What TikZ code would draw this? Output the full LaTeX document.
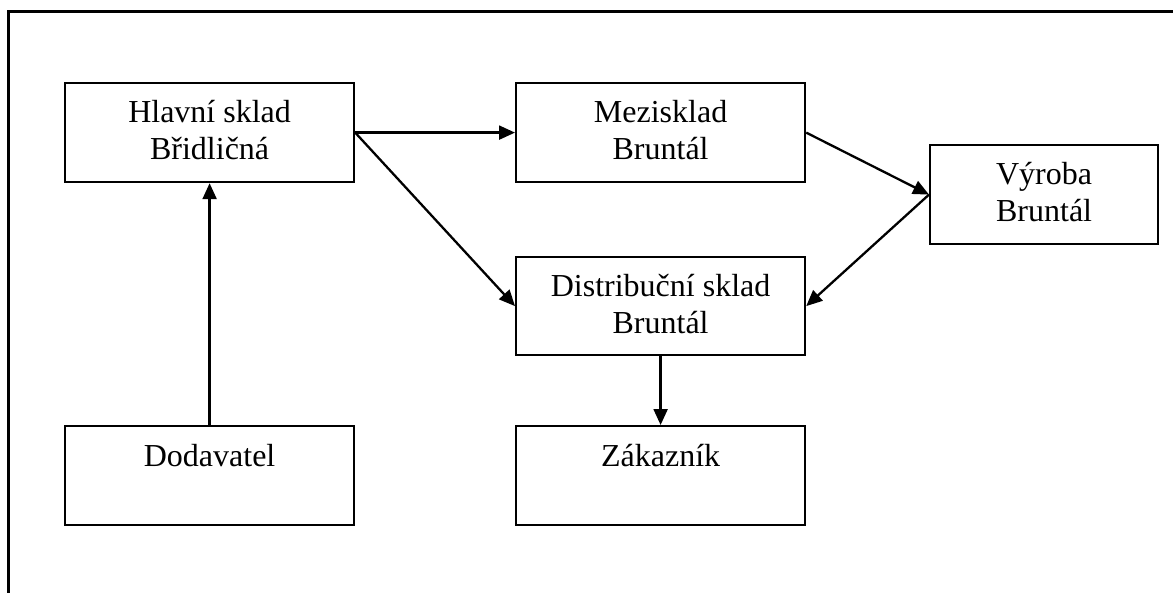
\documentclass[tikz,border=0pt]{standalone}
\usepackage{fontspec}
\setmainfont{Liberation Serif}
\usetikzlibrary{arrows.meta,calc}
\begin{document}
\begin{tikzpicture}[x=1pt,y=-1pt,
  box/.style={draw, line width=2.2pt, minimum width=289pt, minimum height=99pt,
    inner sep=0pt, anchor=north west},
  caption/.style={anchor=base, inner sep=0pt, font=\fontsize{32}{36.5}\selectfont},
  flow/.style={line width=2.3pt, -{Triangle[length=16pt,width=14pt]}}]
\useasboundingbox (0,0) rectangle (1173,592);
% outer frame, running past the right and bottom edges
\draw[line width=3pt] (8.5,11) rectangle (1200,620);

% boxes
\node[box] (hlavni) at (64,82) {};
\node[box] (mezi) at (515,82) {};
\node[box, minimum width=228pt] (vyroba) at (929,144) {};
\node[box, minimum height=98pt] (distr) at (515,256) {};
\node[box] (dodav) at (64,425) {};
\node[box] (zakaz) at (515,425) {};

% box texts
\newcommand{\twolines}[2]{\begin{tabular}[t]{@{}c@{}}#1\\#2\end{tabular}}
\node[caption] (thlavni) at ($(hlavni.north)+(0,40.5)$) {\twolines{Hlavní sklad}{Břidličná}};
\node[caption] (tmezi) at ($(mezi.north)+(0,40.5)$) {\twolines{Mezisklad}{Bruntál}};
\node[caption] (tvyroba) at ($(vyroba.north)+(0,40.5)$) {\twolines{Výroba}{Bruntál}};
\node[caption] (tdistr) at ($(distr.north)+(0,40.5)$) {\twolines{Distribuční sklad}{Bruntál}};
\node[caption] (tdodav) at ($(dodav.north)+(0,41)$) {Dodavatel};
\node[caption] (tzakaz) at ($(zakaz.north)+(0,41)$) {Zákazník};

% flows
\draw[flow] (hlavni.east) -- (mezi.west);
\draw[flow] (hlavni.east) -- (distr.west);
\draw[flow] (mezi.east) -- (vyroba.west);
\draw[flow] (vyroba.west) -- (distr.east);
\draw[flow] (distr.south) -- (zakaz.north);
\draw[flow] (dodav.north) -- (hlavni.south);
\end{tikzpicture}
\end{document}
